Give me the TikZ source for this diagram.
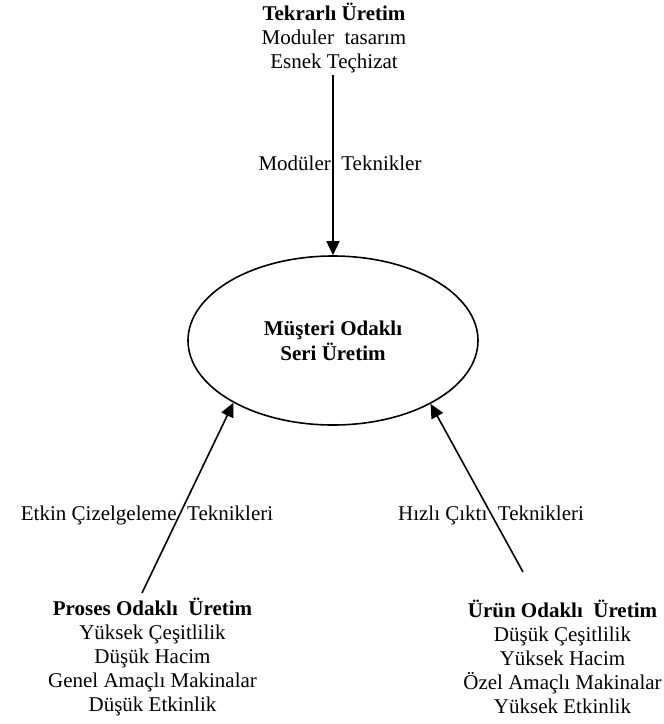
\documentclass[tikz,border=0pt]{standalone}
\usepackage{fontspec}
\setmainfont{Liberation Serif}
\usetikzlibrary{arrows.meta,shapes.geometric}
\begin{document}
\begin{tikzpicture}[x=1pt,y=-1pt,
  txt/.style={align=center,inner sep=2pt,font=\fontsize{21pt}{24pt}\selectfont},
  lbl/.style={inner sep=1pt,font=\fontsize{21pt}{24pt}\selectfont},
  hub/.style={ellipse,draw,line width=1.6pt,minimum width=290pt,minimum height=169pt,
    inner sep=0pt,align=center,font=\fontsize{21pt}{25pt}\selectfont\bfseries},
  arr/.style={line width=1.6pt,-{Triangle[length=14pt,width=13pt]}}]
\useasboundingbox (0,0) rectangle (664,724);

% central production type
\node[hub] (ell) at (333,340.5) {Müşteri Odaklı\\Seri Üretim};

% three surrounding production types
\node[txt] (top) at (334,38) {\textbf{Tekrarlı Üretim}\\Moduler~~tasarım\\Esnek Teçhizat};
\node[txt] (pl) at (152.5,657) {\textbf{Proses Odaklı~~Üretim}\\Yüksek Çeşitlilik\\Düşük Hacim\\Genel Amaçlı Makinalar\\Düşük Etkinlik};
\node[txt] (pr) at (562.5,657) {\textbf{Ürün Odaklı~~Üretim}\\Düşük Çeşitlilik\\Yüksek Hacim\\Özel Amaçlı Makinalar\\Yüksek Etkinlik};

% free ends of the lower connectors
\coordinate (ls) at (142,593);
\coordinate (rs) at (523,572);

% connectors
\draw[arr] (top.south -| ell.north) -- (ell.north);
\draw[arr] (ls) -- (ell.212.6);
\draw[arr] (rs) -- (ell.327.6);

% connector labels
\node[lbl] (lt) at (340,163) {Modüler~~Teknikler};
\node[lbl] (ll) at (147,515) {Etkin Çizelgeleme~~Teknikleri};
\node[lbl] (lr) at (491,515) {Hızlı Çıktı~~Teknikleri};
\end{tikzpicture}
\end{document}
